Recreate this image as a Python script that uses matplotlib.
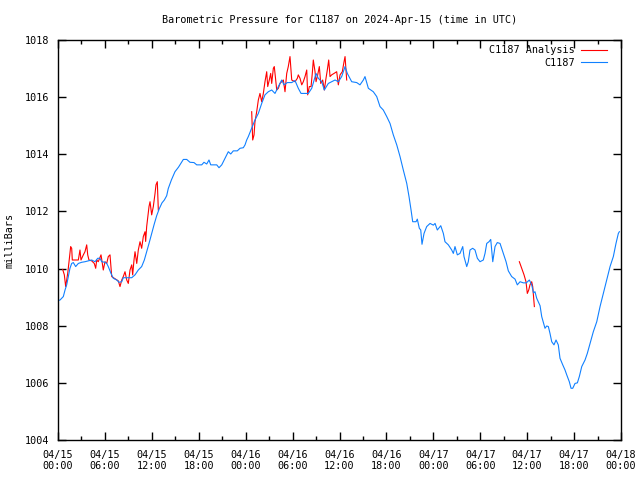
import matplotlib
matplotlib.use('Agg')
import matplotlib.pyplot as plt
import matplotlib.dates as mdates
import pandas as pd

plt.rcParams.update({
    'font.family': 'DejaVu Sans Mono',
    'font.size': 7.3,
    'axes.linewidth': 1.0,
})

start = pd.Timestamp('2024-04-15 00:00')

# C1187 station (hours since 04/15 00:00, mb)
stn_hours = [
    0.0, 0.26, 0.68, 0.90, 1.11, 1.32, 1.53, 1.75, 1.96, 2.26, 2.60, 3.03, 3.45, 3.88,
    4.31, 4.73, 5.08, 5.37, 5.59, 6.01, 6.23, 6.43, 6.78, 7.07, 7.51, 7.80, 8.15, 8.35,
    8.79, 9.43, 9.85, 10.27, 10.70, 11.04, 11.34, 11.64, 11.98, 12.30, 12.62, 12.96,
    13.30, 13.60, 13.90, 14.10, 14.50, 14.96, 15.41, 16.03, 16.46, 16.88, 17.39, 17.74,
    18.38, 18.67, 19.02, 19.31, 19.53, 20.30, 20.59, 20.94, 21.36, 21.78, 22.09, 22.42,
    22.93, 23.28, 23.70, 23.92, 24.13, 24.34, 24.77, 25.19, 25.62, 26.05, 26.47, 26.90,
    27.33, 27.75, 28.18, 28.61, 28.90, 29.33, 29.89, 30.31, 30.73, 31.08, 31.59, 32.01,
    32.45, 33.00, 33.29, 33.73, 34.06, 34.57, 35.00, 35.43, 35.85, 36.28, 36.71, 37.00,
    37.56, 38.20, 38.62, 39.05, 39.26, 39.69, 40.32, 40.76, 41.18, 41.60, 42.04, 42.46,
    42.88, 43.32, 43.74, 44.16, 44.60, 44.89, 45.15, 45.36, 45.79, 45.95, 46.21, 46.39,
    46.55, 46.81, 47.15, 47.58, 48.00, 48.22, 48.51, 48.95, 49.28, 49.49, 49.92, 50.35,
    50.56, 50.77, 51.07, 51.41, 51.76, 51.92, 52.27, 52.47, 52.69, 53.03, 53.33, 53.63,
    53.97, 54.39, 54.61, 54.83, 55.12, 55.34, 55.60, 55.89, 56.18, 56.53, 56.95, 57.30,
    57.59, 58.02, 58.45, 58.74, 59.09, 59.51, 59.89, 60.28, 60.58, 60.81, 61.00, 61.22,
    61.65, 61.86, 62.28, 62.50, 62.71, 62.92, 63.14, 63.43, 63.69, 63.98, 64.20, 64.55,
    64.84, 65.06, 65.39, 65.61, 65.83, 66.12, 66.42, 66.67, 66.98, 67.40, 67.69, 68.04,
    68.46, 68.90, 69.32, 69.74, 70.17, 70.60, 71.02, 71.36, 71.66, 71.79,
]
stn_mb = [
    1008.88, 1008.90, 1009.02, 1009.25, 1009.43, 1009.72, 1010.01, 1010.18, 1010.21,
    1010.07, 1010.18, 1010.22, 1010.24, 1010.27, 1010.30, 1010.24, 1010.36, 1010.36,
    1010.24, 1010.22, 1010.18, 1010.07, 1009.83, 1009.66, 1009.60, 1009.52, 1009.54,
    1009.68, 1009.68, 1009.68, 1009.78, 1009.95, 1010.07, 1010.30, 1010.59, 1010.88,
    1011.23, 1011.55, 1011.85, 1012.10, 1012.30, 1012.40, 1012.55, 1012.80, 1013.10,
    1013.39, 1013.55, 1013.82, 1013.82, 1013.72, 1013.71, 1013.63, 1013.63, 1013.72,
    1013.66, 1013.80, 1013.63, 1013.63, 1013.53, 1013.63, 1013.86, 1014.09, 1014.01,
    1014.12, 1014.12, 1014.21, 1014.23, 1014.33, 1014.50, 1014.62, 1014.91, 1015.20,
    1015.43, 1015.78, 1016.08, 1016.19, 1016.25, 1016.13, 1016.37, 1016.60, 1016.43,
    1016.51, 1016.51, 1016.58, 1016.31, 1016.13, 1016.13, 1016.13, 1016.31, 1016.83,
    1016.66, 1016.54, 1016.25, 1016.48, 1016.54, 1016.60, 1016.54, 1016.72, 1017.07,
    1016.83, 1016.54, 1016.51, 1016.43, 1016.60, 1016.72, 1016.31, 1016.19, 1016.02,
    1015.67, 1015.55, 1015.32, 1015.08, 1014.68, 1014.33, 1013.92, 1013.45, 1012.98,
    1012.52, 1012.05, 1011.64, 1011.64, 1011.73, 1011.41, 1011.35, 1010.85, 1011.23,
    1011.47, 1011.58, 1011.52, 1011.58, 1011.35, 1011.50, 1011.23, 1010.94, 1010.83,
    1010.65, 1010.53, 1010.77, 1010.48, 1010.53, 1010.77, 1010.42, 1010.07, 1010.24,
    1010.65, 1010.71, 1010.65, 1010.36, 1010.24, 1010.30, 1010.53, 1010.88, 1010.94,
    1011.02, 1010.24, 1010.77, 1010.91, 1010.88, 1010.53, 1010.24, 1009.92, 1009.72,
    1009.63, 1009.43, 1009.54, 1009.50, 1009.50, 1009.60, 1009.43, 1009.15, 1009.19,
    1008.96, 1008.70, 1008.32, 1007.91, 1007.99, 1007.97, 1007.73, 1007.44, 1007.33,
    1007.50, 1007.33, 1006.86, 1006.63, 1006.45, 1006.28, 1006.04, 1005.81, 1005.81,
    1005.98, 1006.00, 1006.22, 1006.57, 1006.80, 1007.03, 1007.38, 1007.79, 1008.14,
    1008.67, 1009.13, 1009.60, 1010.07, 1010.42, 1010.88, 1011.23, 1011.29,
]

# C1187 Analysis, three separate pieces
ana1_hours = [
    0.60, 0.81, 0.98, 1.11, 1.24, 1.41, 1.62, 1.75, 1.83, 2.60, 2.81, 2.94, 3.24, 3.45,
    3.67, 3.80, 3.96, 4.31, 4.64, 4.82, 4.95, 5.15, 5.50, 5.67, 5.79, 6.01, 6.23, 6.43,
    6.65, 6.87, 7.20, 7.71, 7.93, 8.15, 8.35, 8.57, 8.79, 8.99, 9.21, 9.43, 9.55, 9.72,
    9.85, 10.07, 10.27, 10.49, 10.70, 10.91, 11.13, 11.21, 11.34, 11.64, 11.77, 11.98,
    12.19, 12.41, 12.53, 12.70, 12.83,
]
ana1_mb = [
    1009.97, 1009.78, 1009.37, 1009.60, 1009.83, 1010.24, 1010.77, 1010.71, 1010.30,
    1010.30, 1010.65, 1010.30, 1010.48, 1010.59, 1010.83, 1010.48, 1010.30, 1010.27,
    1010.18, 1010.01, 1010.30, 1010.24, 1010.48, 1010.18, 1009.95, 1010.24, 1010.18,
    1010.42, 1010.48, 1009.72, 1009.66, 1009.57, 1009.37, 1009.60, 1009.72, 1009.89,
    1009.60, 1009.48, 1009.95, 1010.13, 1009.78, 1010.30, 1010.59, 1010.18, 1010.65,
    1010.94, 1010.71, 1011.12, 1011.29, 1010.95, 1011.47, 1012.17, 1012.34, 1011.88,
    1012.17, 1012.63, 1012.93, 1013.04, 1012.05,
]
ana2_hours = [
    24.77, 24.90, 25.07, 25.19, 25.41, 25.62, 25.83, 26.05, 26.26, 26.47, 26.69, 26.82,
    27.02, 27.20, 27.33, 27.54, 27.66, 27.84, 27.97, 28.18, 28.39, 28.82, 29.03, 29.25,
    29.45, 29.67, 29.89, 30.31, 30.61, 30.73, 30.95, 31.17, 31.37, 31.59, 31.81, 31.93,
    32.14, 32.36, 32.52, 32.65, 32.87, 33.00, 33.21, 33.42, 33.60, 33.85, 34.06, 34.24,
    34.44, 34.62, 34.79, 35.00, 35.30, 35.64, 35.85, 36.07, 36.36, 36.58, 36.71, 36.83,
    36.92,
]
ana2_mb = [
    1015.49, 1014.50, 1014.68, 1015.14, 1015.49, 1015.90, 1016.13, 1015.84, 1016.13,
    1016.54, 1016.89, 1016.37, 1016.60, 1016.83, 1016.48, 1017.01, 1017.07, 1016.60,
    1016.25, 1016.31, 1016.48, 1016.60, 1016.19, 1016.83, 1017.07, 1017.42, 1016.60,
    1016.54, 1016.66, 1016.78, 1016.66, 1016.43, 1016.54, 1016.72, 1016.95, 1016.08,
    1016.37, 1016.37, 1016.83, 1017.30, 1016.89, 1016.54, 1016.78, 1017.07, 1016.48,
    1016.60, 1016.25, 1016.60, 1016.95, 1017.30, 1016.72, 1016.78, 1016.83, 1016.89,
    1016.43, 1016.78, 1016.89, 1017.24, 1017.42, 1016.95, 1016.60,
]
ana3_hours = [59.00, 59.30, 59.60, 59.85, 60.02, 60.20, 60.36, 60.58, 60.71, 60.92]
ana3_mb = [1010.24, 1010.01, 1009.78, 1009.54, 1009.13, 1009.25, 1009.43, 1009.54,
           1009.37, 1008.67]


def to_time(hours):
    return start + pd.to_timedelta(hours, unit='h')


fig = plt.figure(figsize=(6.4, 4.8), dpi=100)
ax = fig.add_axes([58 / 640, 40 / 480, 563 / 640, 400 / 480])

red = '#ff0000'
blue = '#1080ff'
ax.plot(to_time(ana1_hours), ana1_mb, color=red, lw=0.8, label='C1187 Analysis')
ax.plot(to_time(ana2_hours), ana2_mb, color=red, lw=0.8)
ax.plot(to_time(ana3_hours), ana3_mb, color=red, lw=0.8)
ax.plot(to_time(stn_hours), stn_mb, color=blue, lw=0.8, label='C1187')

ax.set_xlim(start, start + pd.Timedelta(hours=72))
ax.set_ylim(1004, 1018)
ax.set_yticks(range(1004, 1019, 2))
ax.xaxis.set_major_locator(mdates.HourLocator(byhour=[0, 6, 12, 18]))
ax.xaxis.set_minor_locator(mdates.HourLocator(byhour=[3, 9, 15, 21]))
ax.xaxis.set_major_formatter(mdates.DateFormatter('%m/%d\n%H:%M'))

ax.tick_params(which='both', direction='in', top=True, right=True, colors='black')
ax.tick_params(which='major', length=6, width=1)
ax.tick_params(which='minor', length=3, width=1)
ax.tick_params(axis='x', pad=7)
ax.tick_params(axis='y', pad=6)

ax.set_title('Barometric Pressure for C1187 on 2024-Apr-15 (time in UTC)',
             fontsize=7.3, pad=12.5)
ax.set_ylabel('milliBars')
ax.yaxis.set_label_coords(-0.078, 0.5)

ax.legend(loc='upper right', frameon=False, markerfirst=False, handlelength=2.6,
          handletextpad=0.6, labelspacing=0.25, borderaxespad=0.1,
          bbox_to_anchor=(0.985, 1.0))

fig.savefig('out.png', dpi=100)
